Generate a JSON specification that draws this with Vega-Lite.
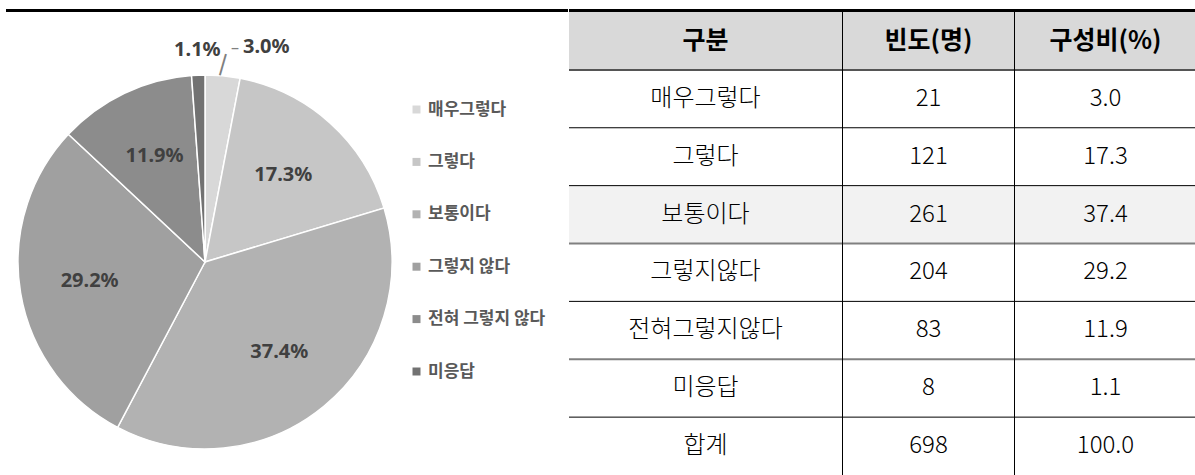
{
  "$schema": "https://vega.github.io/schema/vega-lite/v6.json",
  "padding": {"left": 6, "top": 9, "right": 0, "bottom": 0},
  "background": "white",
  "config": {"view": {"stroke": null}},
  "datasets": {
    "pie": [
      {"cat": "매우그렇다", "n": 21, "pct": 3.0, "order": 1},
      {"cat": "그렇다", "n": 121, "pct": 17.3, "order": 2},
      {"cat": "보통이다", "n": 261, "pct": 37.4, "order": 3},
      {"cat": "그렇지 않다", "n": 204, "pct": 29.2, "order": 4},
      {"cat": "전혀 그렇지 않다", "n": 83, "pct": 11.9, "order": 5},
      {"cat": "미응답", "n": 8, "pct": 1.1, "order": 6}
    ],
    "table": [
      {"cat": "구분"},
      {"cat": "매우그렇다", "n": 21, "pct": 3.0},
      {"cat": "그렇다", "n": 121, "pct": 17.3},
      {"cat": "보통이다", "n": 261, "pct": 37.4},
      {"cat": "그렇지않다", "n": 204, "pct": 29.2},
      {"cat": "전혀그렇지않다", "n": 83, "pct": 11.9},
      {"cat": "미응답", "n": 8, "pct": 1.1},
      {"cat": "합계", "n": 698, "pct": 100.0}
    ],
    "one": [{"k": 1}]
  },
  "spacing": 0,
  "hconcat": [
    {
      "spacing": 51,
      "bounds": "flush",
      "vconcat": [
        {"width": 562, "height": 3, "data": {"name": "one"}, "mark": {"type": "rect", "color": "#000000"}, "encoding": {}},
        {
          "width": 398,
          "height": 398,
          "data": {"name": "pie"},
          "encoding": {
            "theta": {"field": "n", "type": "quantitative", "stack": true},
            "order": {"field": "order", "type": "quantitative"}
          },
          "layer": [
            {
              "mark": {"type": "arc", "outerRadius": 187, "stroke": "#ffffff", "strokeWidth": 1.5},
              "encoding": {
                "color": {
                  "field": "cat",
                  "type": "nominal",
                  "scale": {
                    "domain": ["매우그렇다", "그렇다", "보통이다", "그렇지 않다", "전혀 그렇지 않다", "미응답"],
                    "range": ["#d8d8d8", "#c6c6c6", "#b2b2b2", "#a0a0a0", "#8c8c8c", "#727272"]
                  },
                  "legend": {
                    "orient": "none",
                    "legendX": 402,
                    "legendY": 92,
                    "title": null,
                    "padding": 0,
                    "symbolType": "square",
                    "symbolSize": 64,
                    "symbolStrokeWidth": 0,
                    "labelFont": "Noto Sans CJK KR",
                    "labelFontSize": 17,
                    "labelFontWeight": "bold",
                    "labelColor": "#595959",
                    "labelOffset": 3,
                    "rowPadding": 34.4
                  }
                }
              }
            },
            {
              "mark": {"type": "text", "radius": {"expr": "datum.cat === '미응답' ? 212 : 117"}, "font": "Noto Sans", "fontSize": 20, "fontWeight": "bold", "fill": "#404040", "text": {"expr": "datum.cat === '매우그렇다' ? '' : format(datum.pct, '.1f') + '%'"}}
            },
            {
              "mark": {"type": "text", "radius": {"expr": "datum.cat === '매우그렇다' ? 212 : 0"}, "align": "left", "dx": 18, "dy": -4, "font": "Noto Sans", "fontSize": 20, "fontWeight": "bold", "fill": "#404040", "text": {"expr": "datum.cat === '매우그렇다' ? format(datum.pct, '.1f') + '%' : ''"}}
            },
            {
              "mark": {"type": "text", "radius": {"expr": "datum.cat === '매우그렇다' ? 200 : 0"}, "dx": 2, "angle": 106, "font": "Noto Sans", "fontSize": 24, "fill": "#808080", "text": {"expr": "datum.cat === '매우그렇다' ? '—' : ''"}}
            },
            {
              "mark": {"type": "text", "radius": {"expr": "datum.cat === '매우그렇다' ? 212 : 0"}, "dx": 10, "dy": -3, "font": "Noto Sans", "fontSize": 16, "fill": "#808080", "text": {"expr": "datum.cat === '매우그렇다' ? '–' : ''"}}
            }
          ]
        }
      ]
    },
    {
      "spacing": 0,
      "vconcat": [
        {"width": 627, "height": 3, "data": {"name": "one"}, "mark": {"type": "rect", "color": "#000000"}, "encoding": {}},
        {
          "spacing": 0,
          "bounds": "flush",
          "hconcat": [
            {
              "width": 273,
              "height": 463,
              "data": {"name": "table"},
              "encoding": {"y": {"field": "cat", "type": "nominal", "axis": null, "scale": {"domain": ["구분", "매우그렇다", "그렇다", "보통이다", "그렇지않다", "전혀그렇지않다", "미응답", "합계"], "paddingInner": 0, "paddingOuter": 0}}},
              "layer": [
                {"transform": [{"filter": "datum.cat === '구분' || datum.cat === '보통이다'"}], "mark": {"type": "rect"}, "encoding": {"color": {"condition": {"test": "datum.cat === '구분'", "value": "#d9d9d9"}, "value": "#f2f2f2"}}},
                {"transform": [{"filter": "datum.cat !== '구분'"}], "mark": {"type": "rule"}, "encoding": {"y": {"field": "cat", "type": "nominal", "bandPosition": 0}, "color": {"condition": [{"test": "datum.cat === '매우그렇다'", "value": "#555555"}, {"test": "datum.cat === '그렇지않다' || datum.cat === '미응답'", "value": "#808080"}], "value": "#000000"}, "strokeWidth": {"condition": {"test": "datum.cat === '그렇지않다' || datum.cat === '미응답' || datum.cat === '매우그렇다'", "value": 2}, "value": 1}}},
                {"transform": [{"filter": "datum.cat === '구분'"}], "mark": {"type": "text", "font": "Noto Sans CJK KR", "fontSize": 25, "fontWeight": "bold", "fill": "#000000"}, "encoding": {"text": {"field": "cat", "type": "nominal"}}},
                {"transform": [{"filter": "datum.cat !== '구분'"}], "mark": {"type": "text", "font": "Noto Sans CJK KR", "fontSize": 24, "fontWeight": 300, "fill": "#000000"}, "encoding": {"text": {"field": "cat", "type": "nominal"}}}
              ]
            },
            {"width": 1, "height": 463, "data": {"name": "one"}, "mark": {"type": "rect", "color": "#000000"}, "encoding": {}},
            {
              "width": 171,
              "height": 463,
              "data": {"name": "table"},
              "encoding": {"y": {"field": "cat", "type": "nominal", "axis": null, "scale": {"domain": ["구분", "매우그렇다", "그렇다", "보통이다", "그렇지않다", "전혀그렇지않다", "미응답", "합계"], "paddingInner": 0, "paddingOuter": 0}}},
              "layer": [
                {"transform": [{"filter": "datum.cat === '구분' || datum.cat === '보통이다'"}], "mark": {"type": "rect"}, "encoding": {"color": {"condition": {"test": "datum.cat === '구분'", "value": "#d9d9d9"}, "value": "#f2f2f2"}}},
                {"transform": [{"filter": "datum.cat !== '구분'"}], "mark": {"type": "rule"}, "encoding": {"y": {"field": "cat", "type": "nominal", "bandPosition": 0}, "color": {"condition": [{"test": "datum.cat === '매우그렇다'", "value": "#555555"}, {"test": "datum.cat === '그렇지않다' || datum.cat === '미응답'", "value": "#808080"}], "value": "#000000"}, "strokeWidth": {"condition": {"test": "datum.cat === '그렇지않다' || datum.cat === '미응답' || datum.cat === '매우그렇다'", "value": 2}, "value": 1}}},
                {"transform": [{"filter": "datum.cat === '구분'"}], "mark": {"type": "text", "font": "Noto Sans CJK KR", "fontSize": 25, "fontWeight": "bold", "fill": "#000000", "text": "빈도(명)"}, "encoding": {}},
                {"transform": [{"filter": "datum.cat !== '구분'"}], "mark": {"type": "text", "font": "Noto Sans CJK KR", "fontSize": 24, "fontWeight": 300, "fill": "#000000"}, "encoding": {"text": {"field": "n", "type": "nominal"}}}
              ]
            },
            {"width": 1, "height": 463, "data": {"name": "one"}, "mark": {"type": "rect", "color": "#000000"}, "encoding": {}},
            {
              "width": 181,
              "height": 463,
              "data": {"name": "table"},
              "encoding": {"y": {"field": "cat", "type": "nominal", "axis": null, "scale": {"domain": ["구분", "매우그렇다", "그렇다", "보통이다", "그렇지않다", "전혀그렇지않다", "미응답", "합계"], "paddingInner": 0, "paddingOuter": 0}}},
              "layer": [
                {"transform": [{"filter": "datum.cat === '구분' || datum.cat === '보통이다'"}], "mark": {"type": "rect"}, "encoding": {"color": {"condition": {"test": "datum.cat === '구분'", "value": "#d9d9d9"}, "value": "#f2f2f2"}}},
                {"transform": [{"filter": "datum.cat !== '구분'"}], "mark": {"type": "rule"}, "encoding": {"y": {"field": "cat", "type": "nominal", "bandPosition": 0}, "color": {"condition": [{"test": "datum.cat === '매우그렇다'", "value": "#555555"}, {"test": "datum.cat === '그렇지않다' || datum.cat === '미응답'", "value": "#808080"}], "value": "#000000"}, "strokeWidth": {"condition": {"test": "datum.cat === '그렇지않다' || datum.cat === '미응답' || datum.cat === '매우그렇다'", "value": 2}, "value": 1}}},
                {"transform": [{"filter": "datum.cat === '구분'"}], "mark": {"type": "text", "font": "Noto Sans CJK KR", "fontSize": 25, "fontWeight": "bold", "fill": "#000000", "text": "구성비(%)"}, "encoding": {}},
                {"transform": [{"filter": "datum.cat !== '구분'"}], "mark": {"type": "text", "font": "Noto Sans CJK KR", "fontSize": 24, "fontWeight": 300, "fill": "#000000"}, "encoding": {"text": {"field": "pct", "type": "quantitative", "format": ".1f"}}}
              ]
            }
          ]
        }
      ]
    }
  ]
}
